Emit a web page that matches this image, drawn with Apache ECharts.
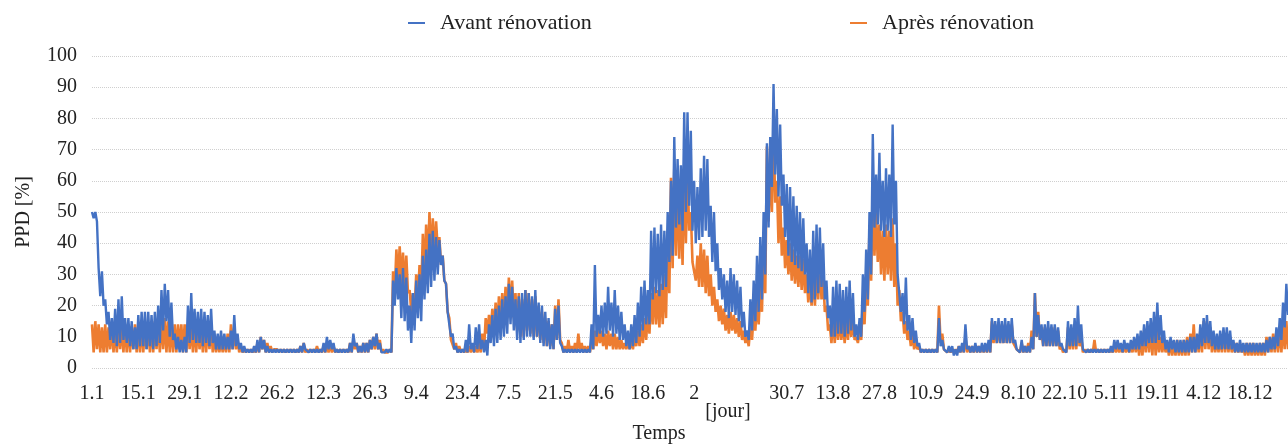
<!DOCTYPE html>
<html>
<head>
<meta charset="utf-8">
<title>PPD avant / après rénovation</title>
<script src="https://cdn.jsdelivr.net/npm/echarts@6/dist/echarts.min.js"></script>
<style>
  html, body { margin: 0; padding: 0; background: #fff; }
  #chart { width: 1288px; height: 445px; }
</style>
</head>
<body>
<div id="chart"></div>
<script>
// valeurs journalières : max (haut) et min (bas) du PPD [%]
var avantHaut = [
  50,50,32,31,22,18,16,19,22,23, 16,16,15,13,17,18,18,18,17,18,
  20,25,27,25,21,11,10,9,10,20, 24,19,18,19,18,17,19,12,11,12,
  11,10,12,17,11,8,7,6,6,7, 9,10,9,7,6,6,6,6,6,6,
  6,6,6,7,8,6,6,6,6,6, 8,10,9,8,6,6,6,6,8,11,
  8,7,8,8,9,10,11,8,5,6, 6,28,32,30,32,29,20,24,28,30,
  36,38,43,44,42,41,36,27,18,11, 7,6,6,9,14,8,13,14,9,9,
  14,17,19,20,22,23,27,26,22,23, 24,25,24,23,25,21,20,18,16,14,
  19,20,7,6,6,6,6,6,6,6, 6,14,33,17,20,21,26,21,25,20,
  18,14,12,14,17,21,26,28,25,44, 45,43,46,44,50,60,74,67,65,82,
  82,76,60,58,64,68,67,52,50,40, 32,30,28,32,30,28,26,18,12,22,
  28,36,42,50,72,74,91,83,78,62, 59,58,55,52,50,48,40,38,44,46,
  45,40,28,20,26,28,27,25,26,28, 24,14,16,30,38,50,75,62,69,60,
  64,62,78,60,30,24,29,17,16,12, 8,6,6,6,6,6,16,9,6,7,
  7,6,7,8,14,7,7,8,7,8, 8,9,16,15,16,15,16,15,16,9,
  6,9,7,7,10,24,17,14,14,15, 14,14,13,8,6,15,14,16,20,14,
  6,6,6,6,6,6,6,6,7,9, 9,8,9,8,9,10,11,12,14,15,
  16,18,21,17,12,9,10,9,9,9, 9,9,10,10,11,14,16,17,15,12,
  11,12,13,13,12,9,8,9,8,8, 8,8,8,8,8,9,10,10,13,16,21,27
];
var avantBas = [
  48,47,23,20,14,9,8,7,8,9, 8,7,6,6,7,7,6,7,6,7,
  8,12,15,10,9,6,5,5,5,8, 9,8,8,7,8,7,8,6,6,6,
  6,6,6,7,6,5,5,5,5,5, 5,6,5,5,5,5,5,5,5,5,
  5,5,5,5,6,5,5,5,5,5, 5,6,6,5,5,5,5,5,5,7,
  5,5,5,5,6,7,6,5,5,5, 5,20,22,16,15,12,8,12,16,15,
  22,24,26,28,30,33,28,18,10,6, 5,5,5,5,6,5,6,6,5,4,
  8,7,8,9,10,11,14,12,9,8, 9,10,10,9,10,8,7,7,6,6,
  9,8,5,5,5,5,5,5,5,5, 5,6,10,11,10,11,12,10,11,9,
  9,7,6,7,8,10,12,14,14,22, 24,23,25,26,34,36,45,46,44,50,
  52,44,40,41,42,44,42,34,31,25, 22,18,16,18,17,15,13,10,9,12,
  15,18,22,30,45,58,62,55,52,42, 36,34,33,32,31,30,24,21,22,24,
  26,22,16,10,10,11,11,10,11,12, 10,9,10,18,22,30,45,46,44,42,
  44,42,46,30,18,14,12,9,8,7, 5,5,5,5,5,5,7,6,5,5,
  4,4,5,5,6,5,5,5,5,5, 5,5,9,8,8,8,8,8,8,6,
  5,5,5,5,6,10,9,7,7,7, 7,7,7,6,5,7,7,7,8,6,
  5,5,5,5,5,5,5,5,5,6, 6,5,6,5,6,6,6,7,7,8,
  8,8,9,8,6,5,6,5,5,5, 5,5,5,5,6,7,8,8,7,6,
  6,6,6,6,6,5,5,5,5,5, 5,5,5,5,5,5,6,6,7,9,13,17
];
var apresHaut = [
  14,15,14,13,14,13,14,13,14,14, 14,14,13,14,14,14,14,14,14,15,
  15,16,16,15,14,14,14,14,14,14, 14,14,14,13,14,14,14,10,9,9,
  9,11,14,13,9,7,6,6,6,6, 8,10,9,8,7,6,6,6,6,6,
  6,6,6,7,8,6,6,6,7,6, 7,8,8,7,6,6,6,6,8,9,
  8,7,8,8,9,10,11,9,6,5, 6,31,38,39,37,36,25,24,30,33,
  43,46,50,48,47,42,36,27,16,9, 8,7,6,6,7,7,7,8,11,16,
  17,19,21,23,24,26,29,28,24,24, 22,25,24,22,23,20,18,16,15,14,
  20,22,8,7,9,7,8,11,8,7, 7,9,12,13,12,11,12,11,11,10,
  9,8,8,9,10,12,14,16,18,24, 26,25,27,30,42,61,64,62,55,64,
  64,50,34,36,40,38,36,30,26,22, 20,19,17,18,17,16,15,12,10,14,
  18,22,26,40,71,66,78,60,55,45, 41,40,38,36,36,35,30,28,30,32,
  34,30,20,14,16,17,16,15,16,17, 16,10,12,22,28,45,59,50,46,44,
  46,44,48,40,25,18,15,12,11,9, 7,6,6,6,6,6,20,11,6,6,
  6,6,7,7,10,7,7,7,7,7, 7,8,15,14,14,14,14,14,14,8,
  6,8,7,8,12,24,18,12,13,13, 13,13,12,7,6,13,12,13,14,10,
  6,6,6,9,6,6,6,6,6,7, 7,7,7,7,8,9,10,10,12,13,
  13,14,12,10,9,8,9,8,9,8, 9,10,11,14,10,12,15,15,13,10,
  9,10,12,11,10,8,8,8,7,8, 8,8,7,8,8,10,10,11,12,13,14,15
];
var apresBas = [
  5,6,5,5,5,6,5,5,6,5, 5,5,6,5,5,5,6,5,5,6,
  5,6,5,5,5,5,6,5,5,6, 5,5,6,5,5,6,5,5,5,5,
  5,5,6,6,5,5,5,5,5,5, 5,6,5,5,5,6,5,5,5,5,
  5,5,5,5,5,5,5,5,5,5, 5,5,5,5,5,5,5,5,5,6,
  5,5,5,5,6,6,6,5,5,5, 5,24,28,27,25,24,18,19,22,24,
  30,32,34,36,38,33,28,18,9,6, 5,5,5,5,5,5,5,5,6,11,
  11,12,13,14,15,16,18,16,12,10, 10,12,11,10,10,9,8,7,7,6,
  9,9,5,5,5,5,5,6,5,5, 5,6,7,8,7,6,7,6,6,6,
  6,6,6,6,7,7,8,9,11,14, 14,13,14,16,24,32,36,35,33,40,
  44,34,28,26,26,24,23,20,18,15, 14,12,11,12,11,10,9,8,7,9,
  12,14,18,24,47,50,53,40,36,32, 30,28,27,26,25,24,21,20,20,22,
  22,18,12,8,8,9,9,8,9,10, 9,8,9,14,20,28,36,34,30,28,
  30,28,26,20,15,11,9,7,6,6, 5,5,5,5,5,5,8,6,5,5,
  5,5,5,5,5,5,5,5,5,5, 5,5,8,8,8,8,8,8,8,6,
  5,5,5,5,6,10,9,7,7,7, 7,7,6,5,5,6,6,6,7,5,
  5,5,5,5,5,5,5,5,5,5, 5,5,5,5,5,5,4,4,5,5,
  4,4,5,5,5,4,4,4,4,4, 4,4,5,5,5,5,6,6,5,5,
  5,5,5,5,5,5,5,5,4,4, 4,4,4,4,4,5,5,5,5,5,6,6
];
// étiquettes de l'axe du temps, une toutes les deux semaines
var joursLabels = ['1.1','15.1','29.1','12.2','26.2','12.3','26.3','9.4','23.4','7.5','21.5','4.6','18.6',
  '2','','30.7','13.8','27.8','10.9','24.9','8.10','22.10','5.11','19.11','4.12','18.12'];
var seriesNames = ['Avant rénovation', 'Après rénovation'];
var bleu = '#4472C4', orange = '#ED7D31';

// deux points par jour : max puis min
function cycle(haut, bas) {
  var out = [];
  for (var i = 0; i < haut.length; i++) { out.push(haut[i]); out.push(bas[i]); }
  return out;
}
var avant = cycle(avantHaut, avantBas);
var apres = cycle(apresHaut, apresBas);
var categories = [];
for (var i = 0; i < avant.length; i++) categories.push(i);

var police = '"Liberation Serif", "Times New Roman", serif';
var legendText = { fontFamily: police, fontSize: 22, color: '#222', padding: [0, 0, 0, 10] };

var chart = echarts.init(document.getElementById('chart'));
chart.setOption({
  animation: false,
  textStyle: { fontFamily: police },
  legend: [
    { left: 408, top: 12, padding: 0, data: [seriesNames[0]], icon: 'rect', itemWidth: 17, itemHeight: 2, textStyle: legendText },
    { left: 850, top: 12, padding: 0, data: [seriesNames[1]], icon: 'rect', itemWidth: 17, itemHeight: 2, textStyle: legendText }
  ],
  grid: { left: 92, right: 0, top: 56, bottom: 77, outerBoundsMode: 'none', containLabel: false },
  xAxis: {
    type: 'category',
    data: categories,
    boundaryGap: false,
    axisLine: { show: false },
    axisTick: { show: false },
    splitLine: { show: false },
    axisLabel: {
      interval: function (index) { return index % 28 === 0; },
      formatter: function (value, index) { return joursLabels[index / 28] || ''; },
      margin: 16,
      fontSize: 20,
      color: '#222'
    }
  },
  yAxis: {
    type: 'value',
    min: 0,
    max: 100,
    interval: 10,
    name: 'PPD [%]',
    nameLocation: 'middle',
    nameGap: 58,
    nameTextStyle: { fontSize: 20, color: '#222' },
    axisLine: { show: false },
    axisTick: { show: false },
    axisLabel: { fontSize: 20, color: '#222', margin: 15 },
    splitLine: { lineStyle: { type: 'dotted', color: '#cfcfcf', width: 1 } }
  },
  graphic: [
    { type: 'text', x: 728, y: 412, style: { text: '[jour]', font: '20px ' + police, fill: '#222', textAlign: 'center', textVerticalAlign: 'middle' } },
    { type: 'text', x: 659, y: 434, style: { text: 'Temps', font: '20px ' + police, fill: '#222', textAlign: 'center', textVerticalAlign: 'middle' } }
  ],
  series: [
    { name: seriesNames[1], type: 'line', data: apres, symbol: 'none', z: 2,
      itemStyle: { color: orange }, lineStyle: { width: 2.6, color: orange } },
    { name: seriesNames[0], type: 'line', data: avant, symbol: 'none', z: 3,
      itemStyle: { color: bleu }, lineStyle: { width: 2.4, color: bleu } }
  ]
});
</script>
</body>
</html>
